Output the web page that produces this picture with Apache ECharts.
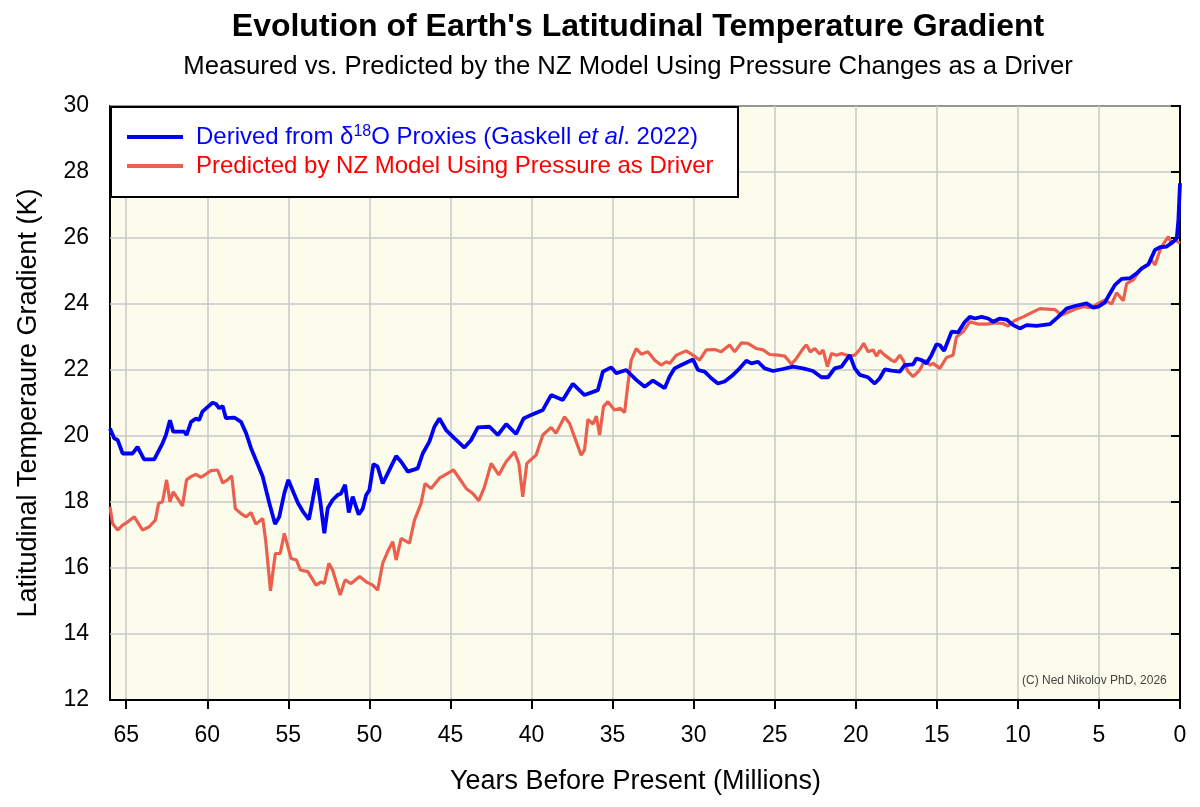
<!DOCTYPE html>
<html>
<head>
<meta charset="utf-8">
<script src="https://cdn.jsdelivr.net/npm/echarts@6/dist/echarts.min.js"></script>
<style>
html,body{margin:0;padding:0;background:#fff;}
#c{width:1200px;height:807px;}
</style>
</head>
<body>
<div id="c"></div>
<script>
// ---- Data (Myr before present, K) ----
const ageBlue = [66.0,65.74,65.53,65.22,64.6,64.3,63.9,63.27,62.76,62.55,62.3,62.1,61.42,61.28,61.0,60.7,60.5,60.3,59.67,59.46,59.26,59.05,58.85,58.33,57.92,57.6,57.3,57.0,56.58,56.17,55.82,55.56,55.25,55.0,54.7,54.4,54.1,53.73,53.5,53.25,53.04,52.78,52.57,52.27,51.96,51.75,51.5,51.27,51.03,50.66,50.41,50.2,50.0,49.75,49.49,49.18,48.87,48.35,48.04,47.63,47.02,46.71,46.3,45.99,45.68,45.27,44.75,44.14,43.72,43.31,42.59,42.08,41.56,40.95,40.49,40.02,39.3,38.79,38.07,37.45,36.73,35.91,35.6,35.08,34.77,34.16,33.54,33.02,32.51,32.1,31.79,31.48,31.17,30.76,30.04,29.73,29.32,28.91,28.5,28.09,27.57,27.16,26.75,26.44,26.03,25.62,25.1,24.49,23.87,23.25,22.64,22.12,21.71,21.3,20.88,20.37,20.06,19.75,19.24,18.83,18.52,18.21,17.8,17.28,16.98,16.46,16.26,15.94,15.64,15.33,15.02,14.81,14.55,14.09,13.68,13.27,12.96,12.65,12.24,11.83,11.52,11.11,10.7,10.29,9.88,9.46,8.85,8.02,7.51,7.0,6.48,5.76,5.35,5.04,4.63,4.32,4.01,3.6,3.09,2.67,2.36,1.95,1.54,1.23,0.82,0.41,0.2,0.1,0.0];
const tempBlue = [20.23,19.93,19.88,19.47,19.47,19.67,19.29,19.29,19.78,20.03,20.48,20.13,20.13,20.03,20.43,20.53,20.48,20.74,21.01,20.97,20.84,20.91,20.54,20.56,20.43,20.08,19.63,19.27,18.77,17.96,17.33,17.55,18.26,18.67,18.31,17.96,17.71,17.47,18.06,18.72,18.06,17.05,17.81,18.06,18.21,18.26,18.52,17.68,18.16,17.62,17.8,18.21,18.36,19.15,19.07,18.56,18.87,19.39,19.22,18.92,19.02,19.47,19.83,20.28,20.53,20.18,19.93,19.65,19.88,20.26,20.28,20.03,20.36,20.06,20.53,20.64,20.79,21.24,21.09,21.58,21.24,21.39,21.95,22.08,21.9,22.0,21.7,21.49,21.68,21.55,21.45,21.8,22.05,22.15,22.32,22.0,21.95,21.75,21.59,21.65,21.85,22.05,22.28,22.2,22.25,22.05,21.97,22.03,22.1,22.05,21.97,21.78,21.78,22.05,22.1,22.45,22.05,21.85,21.78,21.59,21.75,22.02,21.98,21.95,22.15,22.17,22.35,22.3,22.2,22.45,22.78,22.75,22.58,23.16,23.14,23.46,23.61,23.56,23.61,23.56,23.46,23.56,23.53,23.36,23.26,23.36,23.34,23.39,23.61,23.86,23.94,24.02,23.89,23.92,24.05,24.32,24.58,24.76,24.78,24.93,25.08,25.2,25.64,25.72,25.74,25.89,25.99,26.55,27.66];

const ageRed = [66.0,65.84,65.53,65.22,64.9,64.5,63.99,63.58,63.2,63.0,62.76,62.51,62.3,62.1,61.83,61.53,61.28,61.0,60.7,60.39,60.1,59.77,59.36,59.05,58.75,58.49,58.27,57.92,57.6,57.3,57.0,56.58,56.4,56.1,55.8,55.5,55.25,54.83,54.5,54.26,53.8,53.29,52.98,52.78,52.5,52.27,51.8,51.5,51.13,50.6,50.2,49.8,49.49,49.18,48.87,48.56,48.35,48.04,47.53,47.22,46.81,46.57,46.19,45.68,45.17,44.81,44.03,43.62,43.25,42.9,42.49,42.02,41.57,41.05,40.78,40.54,40.29,39.72,39.3,38.79,38.49,37.96,37.65,36.94,36.73,36.52,36.21,36.0,35.8,35.56,35.29,34.88,34.52,34.26,34.05,33.85,33.54,33.23,32.82,32.41,32.0,31.69,31.48,31.07,30.46,30.04,29.63,29.22,28.7,28.3,27.78,27.47,27.06,26.65,26.13,25.72,25.31,24.8,24.38,23.97,23.66,23.25,23.04,22.8,22.53,22.22,22.02,21.75,21.5,21.19,20.88,20.37,20.06,19.75,19.51,19.24,18.93,18.72,18.52,18.21,17.8,17.59,17.28,17.08,16.77,16.46,16.05,15.74,15.43,15.23,14.81,14.4,14.0,13.79,13.38,12.96,12.45,11.93,11.42,10.91,10.6,10.19,9.67,9.15,8.64,7.72,7.3,6.79,6.38,5.97,5.45,5.04,4.63,4.22,3.91,3.5,3.29,2.88,2.47,1.95,1.75,1.54,1.23,0.93,0.72,0.51,0.31,0.0];
const tempRed = [17.86,17.35,17.15,17.3,17.4,17.55,17.15,17.25,17.45,17.96,18.01,18.67,18.01,18.31,18.11,17.88,18.67,18.77,18.84,18.75,18.84,18.95,18.97,18.58,18.67,18.79,17.8,17.65,17.55,17.68,17.33,17.5,16.85,15.31,16.44,16.44,17.05,16.29,16.24,15.94,15.89,15.48,15.58,15.53,16.14,15.94,15.18,15.64,15.53,15.74,15.58,15.48,15.33,16.14,16.5,16.8,16.24,16.9,16.75,17.45,17.96,18.56,18.41,18.72,18.87,18.97,18.41,18.26,18.04,18.46,19.17,18.82,19.22,19.52,19.17,18.16,19.17,19.42,20.03,20.26,20.08,20.58,20.38,19.42,19.58,20.5,20.36,20.6,20.03,20.89,21.04,20.79,20.84,20.71,21.59,22.3,22.65,22.48,22.55,22.3,22.15,22.25,22.2,22.45,22.58,22.45,22.3,22.61,22.62,22.55,22.76,22.55,22.82,22.81,22.65,22.61,22.47,22.45,22.42,22.18,22.35,22.65,22.76,22.55,22.65,22.48,22.61,22.1,22.5,22.45,22.5,22.42,22.45,22.62,22.81,22.55,22.61,22.42,22.59,22.45,22.3,22.25,22.45,22.3,21.95,21.8,22.0,22.3,22.15,22.2,22.05,22.38,22.45,23.0,23.16,23.46,23.39,23.39,23.43,23.41,23.33,23.5,23.61,23.74,23.86,23.83,23.67,23.77,23.86,23.92,23.89,24.02,24.12,24.0,24.34,24.1,24.62,24.73,25.03,25.2,25.33,25.18,25.64,25.89,26.04,25.84,25.94,25.84];

const xTicks = [0,5,10,15,20,25,30,35,40,45,50,55,60,65];
const nameBlue = 'Derived from δ18O Proxies (Gaskell et al. 2022)';
const nameRed = 'Predicted by NZ Model Using Pressure as Driver';

const FONT = '"Liberation Sans", Arial, Helvetica, sans-serif';
const chart = echarts.init(document.getElementById('c'), null, {renderer: 'canvas'});

const pairs = (xs, ys) => xs.map((x, i) => [x, ys[i]]);
const LINE_ICON = 'path://M0,0H56V4H0Z';

chart.setOption({
  animation: false,
  textStyle: {fontFamily: FONT},
  title: [
    {text: "Evolution of Earth's Latitudinal Temperature Gradient", left: 638, top: 11, textAlign: 'center', padding: 0,
     textStyle: {fontFamily: FONT, fontSize: 32, fontWeight: 'bold', color: '#000'}},
    {text: 'Measured vs. Predicted by the NZ Model Using Pressure Changes as a Driver', left: 628, top: 54, textAlign: 'center', padding: 0,
     textStyle: {fontFamily: FONT, fontSize: 25.7, fontWeight: 'normal', color: '#000'}},
    {text: '(C) Ned Nikolov PhD, 2026', left: 1022, top: 675, padding: 0,
     textStyle: {fontFamily: FONT, fontSize: 12, fontWeight: 'normal', color: '#444'}}
  ],
  grid: {left: 110, right: 20, top: 106, bottom: 107, show: true, backgroundColor: '#FCFCEC',
         borderColor: '#000', borderWidth: 2, containLabel: false},
  graphic: [
    {type: 'rect', left: 110, top: 106, z: 10, shape: {width: 627, height: 90},
     style: {fill: '#fff', stroke: '#000', lineWidth: 2}}
  ],
  legend: {
    z: 20, orient: 'vertical', left: 127, top: 124, padding: 0, itemGap: 5,
    itemWidth: 56, itemHeight: 26,
    data: [{name: nameBlue, icon: LINE_ICON}, {name: nameRed, icon: LINE_ICON}],
    formatter: function (n) {
      if (n === nameBlue) return '{b|Derived from δ}{s|18}{b|O Proxies (Gaskell }{i|et al}{b|. 2022)}';
      return '{r|' + n + '}';
    },
    textStyle: {
      padding: [0, 0, 0, 8],
      rich: {
        b: {color: '#0000FF', fontSize: 24, lineHeight: 26, fontFamily: FONT},
        i: {color: '#0000FF', fontSize: 24, lineHeight: 26, fontStyle: 'italic', fontFamily: FONT},
        s: {color: '#0000FF', fontSize: 16, lineHeight: 16, verticalAlign: 'top', fontFamily: FONT},
        r: {color: '#FF0000', fontSize: 24, lineHeight: 26, fontFamily: FONT}
      }
    }
  },
  xAxis: {
    type: 'value', min: 0, max: 66, interval: 5, inverse: true,
    name: 'Years Before Present (Millions)', nameLocation: 'middle', nameGap: 68,
    nameTextStyle: {fontFamily: FONT, fontSize: 27, color: '#000', padding: [0, 19, 0, 0]},
    axisLine: {show: true, onZero: false, lineStyle: {color: '#000', width: 2}},
    axisTick: {show: true, inside: false, length: 9, lineStyle: {color: '#000', width: 2}, customValues: xTicks},
    axisLabel: {fontFamily: FONT, fontSize: 23, color: '#000', margin: 24, customValues: xTicks},
    splitLine: {show: true, lineStyle: {color: '#C8C8C8', width: 1.5}}
  },
  yAxis: {
    type: 'value', min: 12, max: 30, interval: 2,
    name: 'Latitudinal Temperaure Gradient (K)', nameLocation: 'middle', nameGap: 68, nameRotate: 90,
    nameTextStyle: {fontFamily: FONT, fontSize: 27, color: '#000'},
    axisLine: {show: true, lineStyle: {color: '#000', width: 2}},
    axisTick: {show: true, inside: false, length: 9, lineStyle: {color: '#000', width: 2}},
    axisLabel: {fontFamily: FONT, fontSize: 23, color: '#000', margin: 21},
    splitLine: {show: true, lineStyle: {color: '#C8C8C8', width: 1.5}}
  },
  series: [
    {name: nameRed, type: 'line', data: pairs(ageRed, tempRed), symbol: 'none', z: 3,
     lineStyle: {color: '#EC5F4F', width: 3.2}, itemStyle: {color: '#EC5F4F'}},
    {name: nameBlue, type: 'line', data: pairs(ageBlue, tempBlue), symbol: 'none', z: 4,
     lineStyle: {color: '#0000F5', width: 3.8}, itemStyle: {color: '#0000F5'}}
  ]
});
</script>
</body>
</html>
